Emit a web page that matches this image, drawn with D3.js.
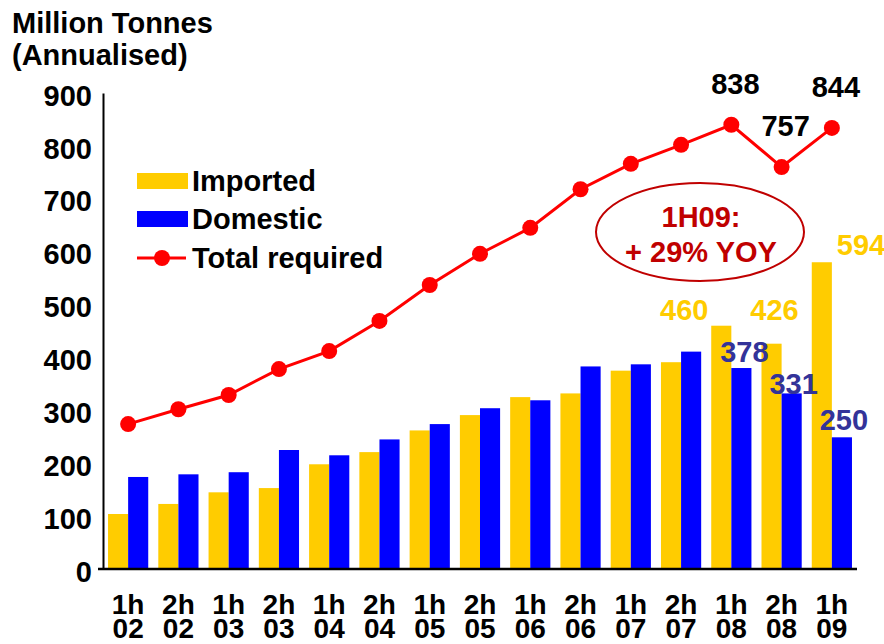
<!DOCTYPE html>
<html>
<head>
<meta charset="utf-8">
<script src="https://cdn.jsdelivr.net/npm/d3@7"></script>
<style>
  body { margin: 0; background: #fff; }
  svg { display: block; font-family: "Liberation Sans", Arial, sans-serif; font-weight: bold; }
</style>
</head>
<body>
<svg class="chart"></svg>
<script>
const periods = ['1h 02', '2h 02', '1h 03', '2h 03', '1h 04', '2h 04', '1h 05', '2h 05',
  '1h 06', '2h 06', '1h 07', '2h 07', '1h 08', '2h 08', '1h 09'];
const imported = [104, 123, 145, 153, 198, 221, 262, 291, 325, 332, 375, 391, 460, 426, 580];
const domestic = [174, 179, 183, 225, 215, 245, 274, 304, 319, 383, 387, 411, 380, 332, 249];
const totalRequired = [274, 302, 329, 378, 412, 469, 537, 596, 645, 718, 766, 802, 840, 760, 834];
const yTicks = [0, 100, 200, 300, 400, 500, 600, 700, 800, 900];
const seriesNames = ['Imported', 'Domestic', 'Total required'];
const totalLabels = [['1h 08', '838'], ['2h 08', '757'], ['1h 09', '844']];
const importedLabels = [['1h 08', '460'], ['2h 08', '426'], ['1h 09', '594']];
const domesticLabels = [['1h 08', '378'], ['2h 08', '331'], ['1h 09', '250']];
const callout = ['1H09:', '+ 29% YOY'];

const width = 884;
const height = 644;
const fs = 29;
const colors = { Imported: '#ffcc00', Domestic: '#0000ff', total: '#ff0000', navy: '#333399', callout: '#c00000' };

const svg = d3.select('svg.chart')
  .attr('width', width)
  .attr('height', height);

const x = d3.scaleBand()
  .domain(periods)
  .range([103, 857])
  .paddingInner(0.2)
  .paddingOuter(0.1);

const sub = d3.scaleBand()
  .domain(['Imported', 'Domestic'])
  .range([0, x.bandwidth()]);

const y = d3.scaleLinear()
  .domain([0, 900])
  .range([569, 93]);

const rows = periods.map((p, i) => ({ period: p, Imported: imported[i], Domestic: domestic[i], total: totalRequired[i] }));

// title
svg.append('text').attr('x', 12).attr('y', 33).attr('font-size', fs).text('Million Tonnes');
svg.append('text').attr('x', 12).attr('y', 65).attr('font-size', fs).text('(Annualised)');

// bars
const groups = svg.append('g').selectAll('g')
  .data(rows)
  .join('g')
  .attr('transform', d => `translate(${x(d.period)},0)`);

groups.selectAll('rect')
  .data(d => ['Imported', 'Domestic'].map(k => ({ key: k, value: d[k] })))
  .join('rect')
  .attr('x', d => sub(d.key))
  .attr('width', sub.bandwidth())
  .attr('y', d => y(d.value))
  .attr('height', d => y(0) - y(d.value))
  .attr('fill', d => colors[d.key]);

// y axis
svg.append('g')
  .attr('transform', `translate(${x.range()[0]},0)`)
  .call(d3.axisLeft(y).tickValues(yTicks).tickSize(0).tickPadding(11).tickFormat(d3.format('d')))
  .call(g => g.select('.domain').attr('stroke', '#000').attr('stroke-width', 2))
  .call(g => g.selectAll('text')
    .attr('font-size', fs)
    .attr('font-family', '"Liberation Sans", Arial, sans-serif')
    .attr('font-weight', 'bold')
    .attr('fill', '#000')
    .attr('dy', '0.42em'));

// x axis
svg.append('g')
  .attr('transform', `translate(0,${y(0)})`)
  .call(d3.axisBottom(x).tickSize(0))
  .call(g => g.select('.domain').remove())
  .call(g => g.selectAll('.tick text')
    .attr('font-size', 28)
    .attr('font-family', '"Liberation Sans", Arial, sans-serif')
    .attr('font-weight', 'bold')
    .attr('fill', '#000')
    .attr('dy', null)
    .attr('y', null)
    .text(null)
    .selectAll('tspan')
    .data(d => d.split(' '))
    .join('tspan')
    .attr('x', 0)
    .attr('y', (d, i) => 45 + i * 24)
    .text(d => d));

svg.append('line')
  .attr('x1', 98).attr('x2', x.range()[1])
  .attr('y1', y(0)).attr('y2', y(0))
  .attr('stroke', '#000').attr('stroke-width', 2.5);

// total required line
const cx = p => x(p) + x.bandwidth() / 2;

svg.append('path')
  .datum(rows)
  .attr('fill', 'none')
  .attr('stroke', colors.total)
  .attr('stroke-width', 3)
  .attr('d', d3.line().x(d => cx(d.period)).y(d => y(d.total)));

svg.append('g').selectAll('circle')
  .data(rows)
  .join('circle')
  .attr('cx', d => cx(d.period))
  .attr('cy', d => y(d.total))
  .attr('r', 8)
  .attr('fill', colors.total);

// value labels
const rowOf = p => rows.find(r => r.period === p);

svg.append('g').selectAll('text')
  .data(totalLabels)
  .join('text')
  .attr('x', d => cx(d[0]) + 4)
  .attr('y', d => y(rowOf(d[0]).total) - 31)
  .attr('text-anchor', 'middle')
  .attr('font-size', fs)
  .attr('fill', '#000')
  .text(d => d[1]);

const impOffsets = [[-37, -6, 'middle'], [3, -24, 'middle'], [15, -7, 'start']];
svg.append('g').selectAll('text')
  .data(importedLabels)
  .join('text')
  .attr('x', (d, i) => x(d[0]) + sub('Imported') + sub.bandwidth() / 2 + impOffsets[i][0])
  .attr('y', (d, i) => y(rowOf(d[0]).Imported) + impOffsets[i][1])
  .attr('text-anchor', (d, i) => impOffsets[i][2])
  .attr('font-size', fs)
  .attr('fill', colors.Imported)
  .text(d => d[1]);

const domOffsets = [[3, -6], [2, 1], [2, -7]];
svg.append('g').selectAll('text')
  .data(domesticLabels)
  .join('text')
  .attr('x', (d, i) => x(d[0]) + sub('Domestic') + sub.bandwidth() / 2 + domOffsets[i][0])
  .attr('y', (d, i) => y(rowOf(d[0]).Domestic) + domOffsets[i][1])
  .attr('text-anchor', 'middle')
  .attr('font-size', fs)
  .attr('fill', colors.navy)
  .text(d => d[1]);

// callout
const co = svg.append('g').attr('transform', 'translate(700,232)');
co.append('ellipse')
  .attr('rx', 104).attr('ry', 49)
  .attr('fill', 'none')
  .attr('stroke', colors.callout)
  .attr('stroke-width', 2);
co.selectAll('text')
  .data(callout)
  .join('text')
  .attr('x', 1)
  .attr('y', (d, i) => -5 + i * 35)
  .attr('text-anchor', 'middle')
  .attr('font-size', fs)
  .attr('fill', colors.callout)
  .text(d => d);

// legend
const legend = svg.append('g').attr('transform', 'translate(137,0)');
const legendY = [181, 219, 258];
seriesNames.forEach((name, i) => {
  const row = legend.append('g').attr('transform', `translate(0,${legendY[i]})`);
  if (i < 2) {
    row.append('rect')
      .attr('x', 0).attr('y', -8)
      .attr('width', 51).attr('height', 16)
      .attr('fill', colors[name]);
  } else {
    row.append('line')
      .attr('x1', 0).attr('x2', 49)
      .attr('stroke', colors.total).attr('stroke-width', 3);
    row.append('circle')
      .attr('cx', 25).attr('r', 8)
      .attr('fill', colors.total);
  }
  row.append('text')
    .attr('x', 55)
    .attr('y', 10)
    .attr('font-size', fs)
    .attr('fill', '#000')
    .text(name);
});
</script>
</body>
</html>
